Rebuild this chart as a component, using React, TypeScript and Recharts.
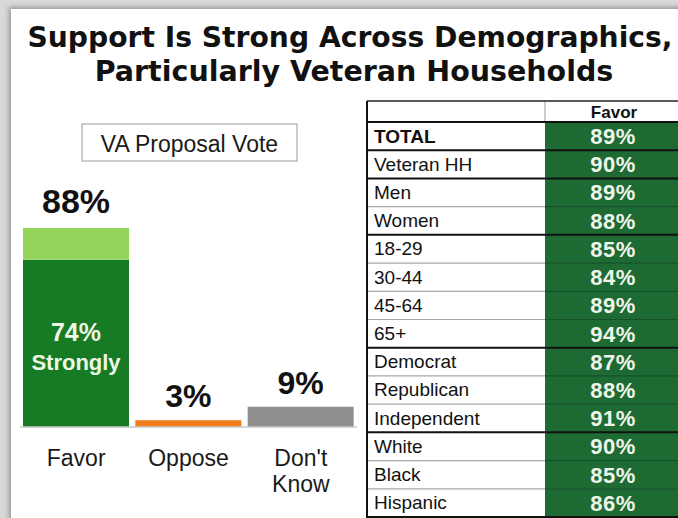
import { Bar, BarChart, Cell, LabelList, XAxis, YAxis } from "recharts";

const categories = ["Favor", "Oppose", "Don't Know"];
const baseValues = [74, 3, 9];
const somewhatValues = [14, 0, 0];
const barColors = ["#177a24", "#f07b1a", "#8f8f8f"];

const groups = [
  "TOTAL",
  "Veteran HH",
  "Men",
  "Women",
  "18-29",
  "30-44",
  "45-64",
  "65+",
  "Democrat",
  "Republican",
  "Independent",
  "White",
  "Black",
  "Hispanic",
];
const favorValues = [89, 90, 89, 88, 85, 84, 89, 94, 87, 88, 91, 90, 85, 86];
// rows followed by a heavy black rule
const heavyRules = [0, 1, 3, 7, 10, 13];

const data = categories.map((name, i) => ({
  name,
  base: baseValues[i],
  somewhat: somewhatValues[i],
  total: baseValues[i] + somewhatValues[i],
}));

const SANS = "'Liberation Sans', Arial, Helvetica, sans-serif";

const CategoryTick = (props: any) => {
  const { x, y, payload } = props;
  const words = String(payload.value).split(" ");
  return (
    <g>
      {words.map((w: string, i: number) => (
        <text
          key={i}
          x={x}
          y={y + 31 + i * 26}
          textAnchor="middle"
          fontSize={23}
          fontFamily={SANS}
          fill="#1a1a1a"
        >
          {w}
        </text>
      ))}
    </g>
  );
};

const BaseLabel = (props: any) => {
  const { x, y, width, index } = props;
  const cx = Number(x) + Number(width) / 2;
  const top = Number(y);
  if (index === 0) {
    return (
      <g fontFamily={SANS} fontWeight="bold" fill="#eef7e6" textAnchor="middle">
        <text x={cx} y={top + 81} fontSize={25}>
          {`${baseValues[0]}%`}
        </text>
        <text x={cx} y={top + 110} fontSize={22}>
          Strongly
        </text>
      </g>
    );
  }
  return (
    <text
      x={cx}
      y={top - 13}
      textAnchor="middle"
      fontSize={32}
      fontWeight="bold"
      fontFamily={SANS}
      fill="#111"
    >
      {`${data[index].total}%`}
    </text>
  );
};

const TopLabel = (props: any) => {
  const { x, y, width, index } = props;
  if (index !== 0) return null;
  return (
    <text
      x={Number(x) + Number(width) / 2}
      y={Number(y) - 15}
      textAnchor="middle"
      fontSize={34}
      fontWeight="bold"
      fontFamily={SANS}
      fill="#111"
    >
      {`${data[0].total}%`}
    </text>
  );
};

const tableLeft = 367;
const colSplit = 545;
const tableRight = 690;
const headTop = 101;
const headBottom = 122;
const rowH = (517 - headBottom) / groups.length;

const Table = () => (
  <g>
    <rect x={tableLeft} y={headTop} width={tableRight - tableLeft} height={headBottom - headTop} fill="#fff" />
    <line x1={colSplit} x2={colSplit} y1={headTop} y2={headBottom} stroke="#9a9a9a" strokeWidth={1} />
    <text
      x={614}
      y={118}
      textAnchor="middle"
      fontSize={17}
      fontWeight="bold"
      fontFamily={SANS}
      fill="#111"
    >
      Favor
    </text>
    {groups.map((g, i) => {
      const top = headBottom + i * rowH;
      return (
        <g key={g}>
          <rect x={tableLeft} y={top} width={colSplit - tableLeft} height={rowH} fill="#fff" />
          <rect x={colSplit} y={top} width={tableRight - colSplit} height={rowH} fill="#1e6a33" />
          <text
            x={374}
            y={top + 20.5}
            fontSize={19}
            fontWeight={i === 0 ? "bold" : "normal"}
            fontFamily={SANS}
            fill="#111"
          >
            {g}
          </text>
          <text
            x={613}
            y={top + 22}
            textAnchor="middle"
            fontSize={22}
            fontWeight="bold"
            fontFamily={SANS}
            fill="#eef5ea"
            letterSpacing={0.5}
          >
            {`${favorValues[i]}%`}
          </text>
        </g>
      );
    })}
    {groups.map((g, i) => {
      const yy = headBottom + (i + 1) * rowH;
      const heavy = heavyRules.includes(i);
      return heavy ? (
        <line key={"r" + g} x1={tableLeft} x2={tableRight} y1={yy} y2={yy} stroke="#111" strokeWidth={2} />
      ) : (
        <g key={"r" + g}>
          <line x1={tableLeft} x2={colSplit} y1={yy} y2={yy} stroke="#a8a8a8" strokeWidth={1.2} />
          <line x1={colSplit} x2={tableRight} y1={yy} y2={yy} stroke="#14502a" strokeWidth={1.2} />
        </g>
      );
    })}
    <line x1={tableLeft} x2={tableRight} y1={headTop} y2={headTop} stroke="#222" strokeWidth={1.5} />
    <line x1={tableLeft} x2={tableRight} y1={headBottom} y2={headBottom} stroke="#111" strokeWidth={2} />
    <line x1={tableLeft} x2={tableLeft} y1={headTop} y2={518} stroke="#111" strokeWidth={2} />
  </g>
);

export default function App() {
  return (
    <div
      style={{
        position: "absolute",
        left: 0,
        top: 0,
        width: 678,
        height: 518,
        overflow: "hidden",
        background: "#d9d9d9",
      }}
    >
      <div
        style={{
          position: "absolute",
          left: 11,
          top: 9,
          width: 720,
          height: 560,
          background: "#fff",
          boxShadow: "0 0 5px 2px rgba(0,0,0,0.3)",
        }}
      />
      <svg width={678} height={518} style={{ position: "absolute", left: 0, top: 0 }}>
        <g fontFamily="'DejaVu Sans', Verdana, sans-serif" fontWeight="bold" fill="#111" textAnchor="middle">
          <text x={350} y={47} fontSize={28.2}>
            Support Is Strong Across Demographics,
          </text>
          <text x={354} y={81} fontSize={28.5}>
            Particularly Veteran Households
          </text>
        </g>
        <rect x={82} y={124} width={215} height={37} fill="#fff" stroke="#9c9c9c" strokeWidth={1} />
        <text x={189.5} y={152} textAnchor="middle" fontSize={23} fontFamily={SANS} fill="#1a1a1a">
          VA Proposal Vote
        </text>
        <Table />
      </svg>
      <div style={{ position: "absolute", left: 0, top: 0 }}>
        <BarChart
          width={370}
          height={518}
          data={data}
          margin={{ top: 201, right: 13, bottom: 31, left: 20 }}
          barSize={106}
        >
          <XAxis
            dataKey="name"
            height={60}
            interval={0}
            axisLine={{ stroke: "#c9c9c9", strokeWidth: 1.5 }}
            tickLine={false}
            tick={<CategoryTick />}
          />
          <YAxis hide domain={[0, 100]} />
          <Bar dataKey="base" stackId="vote" isAnimationActive={false}>
            {data.map((d, i) => (
              <Cell key={d.name} fill={barColors[i]} />
            ))}
            <LabelList dataKey="base" content={<BaseLabel />} />
          </Bar>
          <Bar dataKey="somewhat" stackId="vote" fill="#93d55b" isAnimationActive={false}>
            <LabelList dataKey="somewhat" content={<TopLabel />} />
          </Bar>
        </BarChart>
      </div>
    </div>
  );
}
